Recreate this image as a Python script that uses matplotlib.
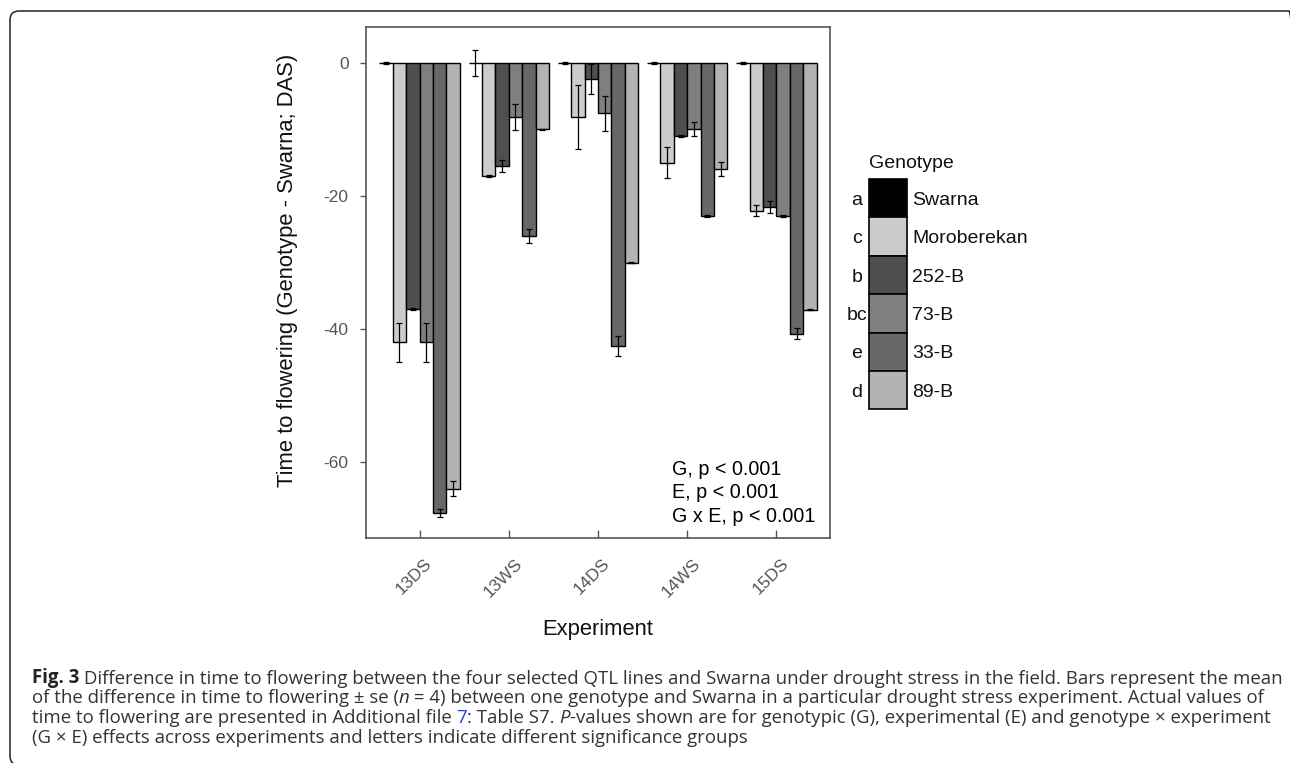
import numpy as np
import matplotlib
matplotlib.use('Agg')
import matplotlib.pyplot as plt
from matplotlib.patches import Rectangle, FancyBboxPatch
from matplotlib import transforms

plt.rcParams['font.family'] = ['Liberation Sans', 'DejaVu Sans']
plt.rcParams['axes.unicode_minus'] = False

# experiments and genotypes
experiments = ['13DS', '13WS', '14DS', '14WS', '15DS']
genotypes = ['Swarna', 'Moroberekan', '252-B', '73-B', '33-B', '89-B']
groups = ['a', 'c', 'b', 'bc', 'e', 'd']
colours = ['#000000', '#cccccc', '#4f4f4f', '#7f7f7f', '#686868', '#b3b3b3']

# difference in time to flowering vs Swarna (DAS), one value per experiment
swarna = [0, 0, 0, 0, 0]
moroberekan = [-42, -17, -8.1, -15, -22.2]
b252 = [-37, -15.5, -2.4, -11, -21.6]
b73 = [-42, -8.1, -7.6, -10, -23]
b33 = [-67.6, -26, -42.6, -23, -40.7]
b89 = [-64, -10, -30, -16, -37.1]

# standard errors
se_swarna = [0.1, 2.0, 0.1, 0.1, 0.1]
se_moroberekan = [2.9, 0.1, 4.8, 2.3, 0.8]
se_252 = [0.2, 0.9, 2.3, 0.1, 0.9]
se_73 = [2.9, 2.0, 2.6, 1.05, 0.1]
se_33 = [0.6, 1.0, 1.5, 0.1, 0.8]
se_89 = [1.1, 0.1, 0.1, 1.05, 0.1]

means = [swarna, moroberekan, b252, b73, b33, b89]
errors = [se_swarna, se_moroberekan, se_252, se_73, se_33, se_89]

W, H = 1290, 763
fig = plt.figure(figsize=(W / 100, H / 100), dpi=100)
fig.patch.set_facecolor('white')

def fx(p):
    return p / W

def fy(p):
    return 1 - p / H

ax = fig.add_axes([fx(366), fy(538), fx(830 - 366), (538 - 27) / H])

x = np.arange(1, len(experiments) + 1)
w = 0.15
for i in range(len(genotypes)):
    pos = x + (i - 2.5) * w
    ax.bar(pos, means[i], w, color=colours[i], edgecolor='black', linewidth=1.0, zorder=2)
    ax.errorbar(pos, means[i], yerr=errors[i], fmt='none', ecolor='black',
                elinewidth=0.9, capsize=2, capthick=0.9, zorder=3)

ax.set_xlim(0.4, 5.6)
ax.set_ylim(-71.4, 5.4)
ax.set_yticks([0, -20, -40, -60])
ax.set_xticks(x)
ax.set_xticklabels(experiments, rotation=45, ha='center')
for sp in ax.spines.values():
    sp.set_color('#555555')
    sp.set_linewidth(1.2)
ax.tick_params(axis='y', direction='out', length=4.5, width=1, color='#555555',
               labelcolor='#555555', labelsize=12.5, pad=8)
ax.tick_params(axis='x', direction='in', length=5.5, width=1, color='#555555',
               labelcolor='#555555', labelsize=12.5, pad=13)
shift = transforms.ScaledTranslation(-6 / 100, 0, fig.dpi_scale_trans)
for lab in ax.get_xticklabels():
    lab.set_transform(lab.get_transform() + shift)

# axis titles
fig.text(fx(287), fy(270), 'Time to flowering (Genotype - Swarna; DAS)', rotation=90,
         ha='center', va='center', fontsize=15.8, color='#111111')
fig.text(fx(598), fy(635), 'Experiment', ha='center', va='baseline',
         fontsize=15.8, color='#111111')

# p-values
stats = ['G, p < 0.001', 'E, p < 0.001', 'G x E, p < 0.001']
for k, s in enumerate(stats):
    fig.text(fx(672), fy(475 + 23.4 * k), s, ha='left', va='baseline',
             fontsize=14.2, color='black')

# legend with significance letters
fig.text(fx(869), fy(168), 'Genotype', ha='left', va='baseline', fontsize=14, color='#111111')
top, bh, bw = 179.0, 38.4, 37.6
for i, g in enumerate(genotypes):
    y0 = top + bh * i
    fig.add_artist(Rectangle((fx(869.3), fy(y0 + bh)), bw / W, bh / H,
                             transform=fig.transFigure, facecolor=colours[i],
                             edgecolor='black', linewidth=1.2))
    fig.text(fx(912), fy(y0 + bh / 2), g, ha='left', va='center_baseline',
             fontsize=14, color='#111111')
    fig.text(fx(857), fy(y0 + bh / 2), groups[i], ha='center', va='center_baseline',
             fontsize=14, color='#111111')

# rounded frame (only top and left edges fall inside the canvas)
fig.add_artist(FancyBboxPatch((10, -2), 1288, H - 11 + 2,
                              boxstyle='round,pad=0,rounding_size=9',
                              transform=transforms.IdentityTransform(),
                              fill=False, edgecolor='#222222', linewidth=1.1))

# caption
renderer = fig.canvas.get_renderer()
cap_kw = dict(family='Open Sans', color='#333333')

def advance(s, size, style):
    kw = dict(cap_kw, fontsize=size, **style)
    t1 = fig.text(0, 0, s + '|', **kw)
    t2 = fig.text(0, 0, '|', **kw)
    d = t1.get_window_extent(renderer).width - t2.get_window_extent(renderer).width
    t1.remove()
    t2.remove()
    return d

bold = dict(fontweight='bold', color='#222222')
ital = dict(fontstyle='italic')
link = dict(color='#2a3fd0')
lines = [
    [('Fig. 3', bold), (' Difference in time to flowering between the four selected QTL lines and Swarna under drought stress in the field. Bars represent the mean', {})],
    [('of the difference in time to flowering \u00b1 se (', {}), ('n', ital), (' = 4) between one genotype and Swarna in a particular drought stress experiment. Actual values of', {})],
    [('time to flowering are presented in Additional file ', {}), ('7', link), (': Table S7. ', {}), ('P', ital), ('-values shown are for genotypic (G), experimental (E) and genotype \u00d7 experiment', {})],
    [('(G \u00d7 E) effects across experiments and letters indicate different significance groups', {})],
]

x_start, x_end = 31.7, 1275
base = 12.0
wid = sum(advance(s, base, st) for s, st in lines[0])
size = base * (x_end - x_start) / wid

for k, runs in enumerate(lines):
    xx = x_start
    yb = 683.5 + 19.8 * k
    for s, st in runs:
        fig.text(fx(xx), fy(yb), s, ha='left', va='baseline', **dict(cap_kw, fontsize=size, **st))
        xx += advance(s, size, st)

fig.savefig('out.png', dpi=100)
